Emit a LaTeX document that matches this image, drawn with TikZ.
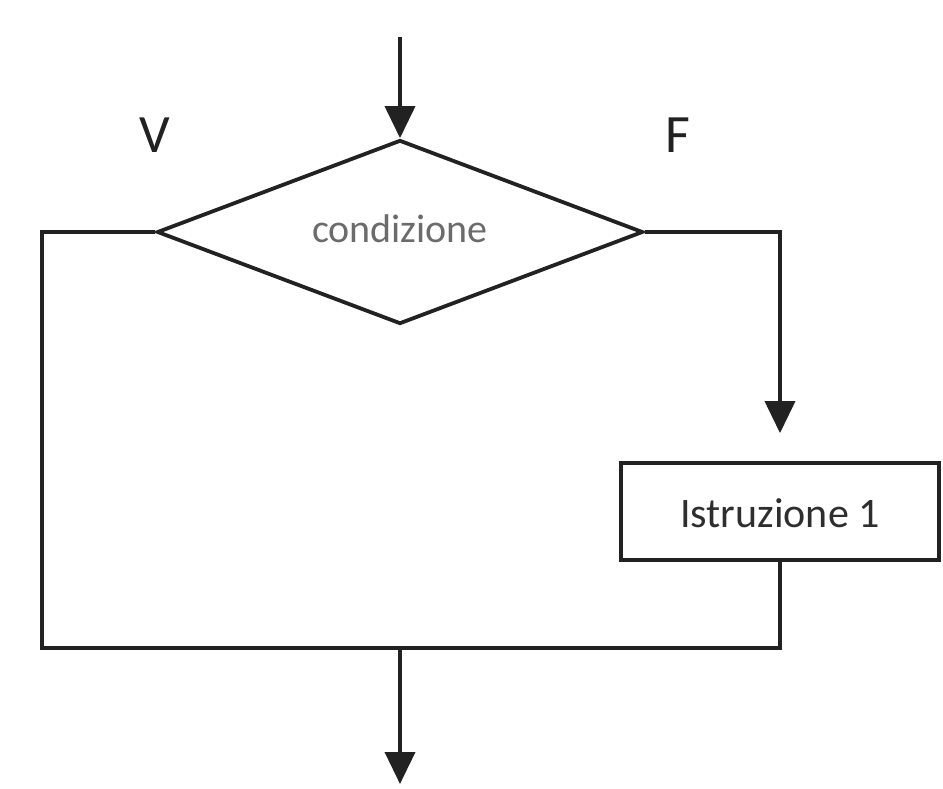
\documentclass[tikz,border=0pt]{standalone}
\usepackage{fontspec}
\setmainfont{Carlito}
\usetikzlibrary{shapes.geometric,arrows.meta}
\definecolor{ink}{HTML}{222222}
\begin{document}
\begin{tikzpicture}[x=1pt,y=-1pt,
  flowline/.style={draw=ink,line width=3.8pt,line join=miter},
  arrowline/.style={flowline,-{Triangle[width=30pt,length=32pt]}},
  decision/.style={diamond,draw=ink,line width=3.8pt,inner sep=0pt,
    minimum width=486pt,minimum height=184pt,aspect=2.64},
  process/.style={rectangle,draw=ink,line width=3.8pt,inner sep=0pt,
    minimum width=318pt,minimum height=97pt},
  branch/.style={font=\fontsize{54}{60}\selectfont,text=ink}]
  \fill[white] (0,0) rectangle (943,788);
  \useasboundingbox (0,0) rectangle (943,788);

  % decision and statement
  \node[decision] (cond) at (400,232) {};
  \node[text=black!58,font=\fontsize{40}{46}\selectfont] (condlbl) at (400,229) {condizione};
  \node[process] (istr) at (780,511.5) {};
  \node[text=black!82,font=\fontsize{42}{48}\selectfont] (istrlbl) at (780,513) {Istruzione 1};

  % branch labels
  \node[branch] (vlbl) at (155,135) {V};
  \node[branch] (flbl) at (678,135) {F};

  % route points
  \coordinate (in) at (400,37);
  \coordinate (lc) at (42,232);
  \coordinate (bl) at (42,648);
  \coordinate (br) at (780,648);
  \coordinate (rc) at (780,232);
  \coordinate (mj) at (400,648);
  \coordinate (out) at (400,784);

  % connectors
  \draw[arrowline] (in) -- (cond.north);
  \draw[flowline] (cond.west) -- (lc) -- (bl) -- (br) -- (istr.south);
  \draw[arrowline,shorten >=28pt] (cond.east) -- (rc) -- (istr.north);
  \draw[arrowline] (mj) -- (out);
\end{tikzpicture}
\end{document}
